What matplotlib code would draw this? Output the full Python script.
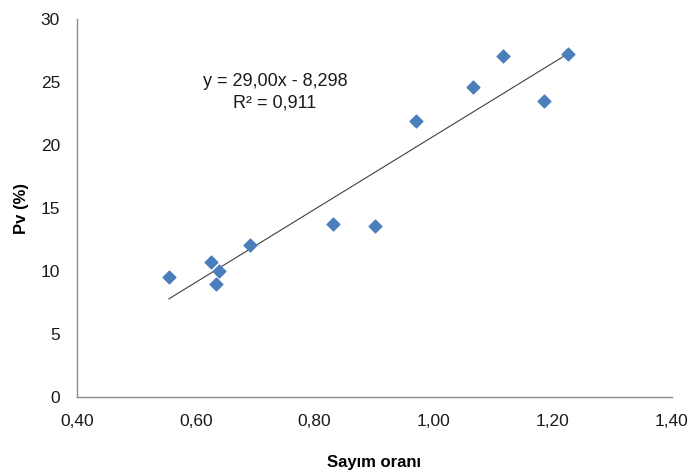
import matplotlib
matplotlib.use('Agg')
import matplotlib.pyplot as plt
from matplotlib.ticker import FuncFormatter
import numpy as np

plt.rcParams['font.family'] = ['Liberation Sans', 'DejaVu Sans']

# values
sayim_orani = [0.555, 0.625, 0.639, 0.634, 0.691, 0.830, 0.902, 0.971, 1.066, 1.116, 1.185, 1.225]
pv = [9.5, 10.7, 10.0, 9.0, 12.1, 13.7, 13.6, 21.9, 24.6, 27.1, 23.5, 27.2]
slope = 29.00
intercept = -8.298
r2 = 0.911

fig = plt.figure(figsize=(6.91, 4.75), dpi=100)
ax = fig.add_axes([0.111, 0.164, 0.861, 0.796])

ax.scatter(sayim_orani, pv, marker='D', s=42, color='#4a7ebb', edgecolors='#4a7ebb', zorder=3)

xl = np.array([min(sayim_orani), max(sayim_orani)])
ax.plot(xl, slope * xl + intercept, color='#404040', lw=0.8, zorder=2)

ax.text(0.733, 25.05, 'y = 29,00x - 8,298', ha='center', va='center', fontsize=13, color='#1a1a1a')
ax.text(0.733, 23.35, 'R² = 0,911', ha='center', va='center', fontsize=13, color='#1a1a1a')

ax.set_xlim(0.40, 1.40)
ax.set_ylim(0, 30)
ax.set_xticks(np.arange(0.40, 1.41, 0.20))
ax.set_yticks(np.arange(0, 31, 5))
ax.xaxis.set_major_formatter(FuncFormatter(lambda v, p: ('%.2f' % v).replace('.', ',')))
ax.tick_params(length=0, labelsize=12.5, colors='#1a1a1a', pad=12)
ax.tick_params(axis='y', pad=12)

for s in ['top', 'right']:
	ax.spines[s].set_visible(False)
for s in ['left', 'bottom']:
	ax.spines[s].set_color('#8c8c8c')
	ax.spines[s].set_linewidth(1.0)

ax.set_xlabel('Sayım oranı', fontsize=12, fontweight='bold', labelpad=19)
ax.set_ylabel('Pv (%)', fontsize=12, fontweight='bold', labelpad=8)

fig.savefig('out.png', dpi=100)
